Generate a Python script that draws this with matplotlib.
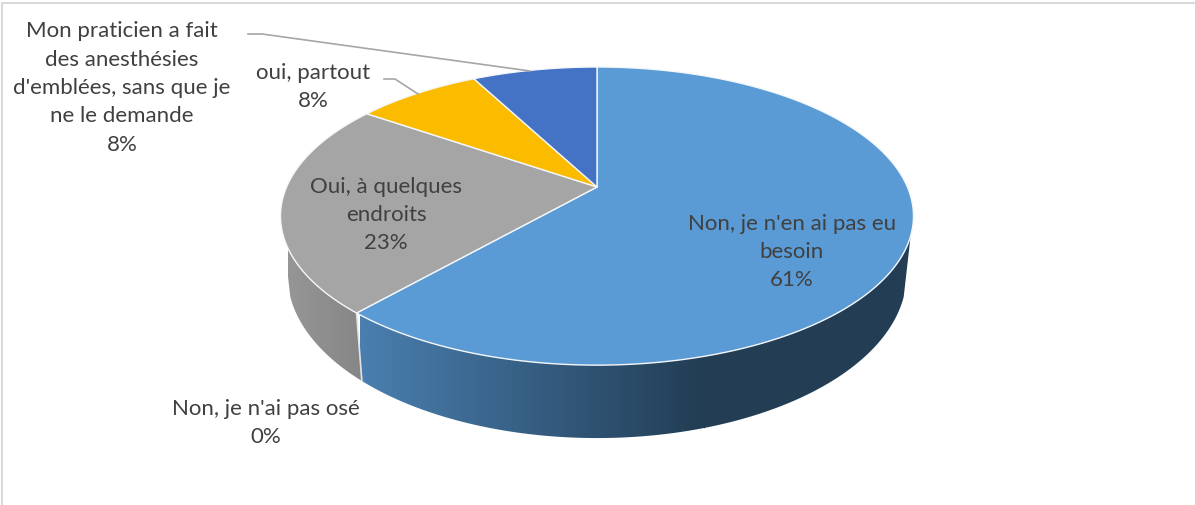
import numpy as np
import matplotlib
matplotlib.use("Agg")
import matplotlib.pyplot as plt
from matplotlib.colors import LinearSegmentedColormap
from matplotlib.patches import Polygon

# donnees du camembert (sens horaire depuis le haut)
categories = ["Non, je n'en ai pas eu\nbesoin", "Non, je n'ai pas osé", "Oui, à quelques\nendroits",
              "oui, partout", "Mon praticien a fait\ndes anesthésies\nd'emblées, sans que je\nne le demande"]
values = [61.5, 0, 23.1, 7.7, 7.7]
percent_labels = ["61%", "0%", "23%", "8%", "8%"]
colors = ["#5B9BD5", "#ED7D31", "#A5A5A5", "#FBBC00", "#4472C4"]
label_x = [792, 266, 386, 313, 122]
label_y = [252, 423, 215, 87, 88]

plt.rcParams['font.family'] = ['Lato', 'DejaVu Sans']
TEXT = "#404040"

# projection perspective du disque, en pixels
X0, Y0 = 597, 187
W, H, K = 310.4, 143.4, 0.195
DROP, SX, SY = 56, 0.978, 1.095
SIDE_A, SIDE_B = 108.7, 251.3


def top(deg):
    t = np.radians(deg)
    d = 1 + K * np.cos(t)
    return X0 + W * np.sin(t) / d, Y0 - H * np.cos(t) / d


def bottom(deg):
    x, y = top(deg)
    return X0 + SX * (x - X0), Y0 + DROP + SY * (y - Y0)


fig = plt.figure(figsize=(11.95, 5.05), dpi=100)
ax = fig.add_axes([0, 0, 1, 1])
ax.axis("off")

# cadre
ax.add_patch(plt.Rectangle((2, 3), 1300, 600, fc="white", ec="#D9D9D9", lw=1.5))

stops = np.cumsum([0] + values) * 3.6


def side(a, b, c1, c2, x1, x2):
    a, b = max(a, SIDE_A), min(b, SIDE_B)
    if b <= a:
        return
    th = np.linspace(a, b, 150)
    xt, yt = top(th)
    xb, yb = bottom(th)
    pts = np.r_[np.c_[xt, yt], np.c_[xb, yb][::-1]]
    poly = Polygon(pts, fc="none", ec="none")
    ax.add_patch(poly)
    cmap = LinearSegmentedColormap.from_list("s", [c1, c2])
    im = ax.imshow(np.linspace(0, 1, 256)[None, :], cmap=cmap, aspect="auto",
                   extent=(x1, x2, 505, 0), zorder=1)
    im.set_clip_path(poly)
    # partie au dela du degrade
    if pts[:, 0].max() > x2:
        ax.fill(np.clip(pts[:, 0], x2 - 1, None), pts[:, 1], color=c2, lw=0, zorder=1)


side(stops[0], stops[1], "#4A7FB0", "#223D54", 360, 705)
side(stops[2], stops[3], "#969696", "#868686", 288, 362)

# separation blanche entre les faces
xa, ya = top(stops[1])
xb, yb = bottom(stops[1])
ax.plot([xa, xb], [ya, yb], color="#E4E4E4", lw=1.2, zorder=2)

# face superieure
for i, v in enumerate(values):
    if v == 0:
        continue
    th = np.linspace(stops[i], stops[i + 1], 200)
    xs, ys = top(th)
    ax.fill(np.r_[X0, xs], np.r_[Y0, ys], fc=colors[i], ec="#F4F7FA", lw=1.0,
            joinstyle="round", zorder=3)

# lignes de rappel
ax.plot([248, 262, 530], [34, 34, 71], color="#A6A6A6", lw=1.2, zorder=4)
ax.plot([384, 395, 418], [79, 79, 94], color="#A6A6A6", lw=1.2, zorder=4)

for i, c in enumerate(categories):
    ax.text(label_x[i], label_y[i], c + "\n" + percent_labels[i], ha="center", va="center",
            multialignment="center", fontsize=16, color=TEXT, linespacing=1.53, zorder=5)

ax.set_xlim(0, 1195)
ax.set_ylim(505, 0)
fig.savefig("out.png", dpi=100)
